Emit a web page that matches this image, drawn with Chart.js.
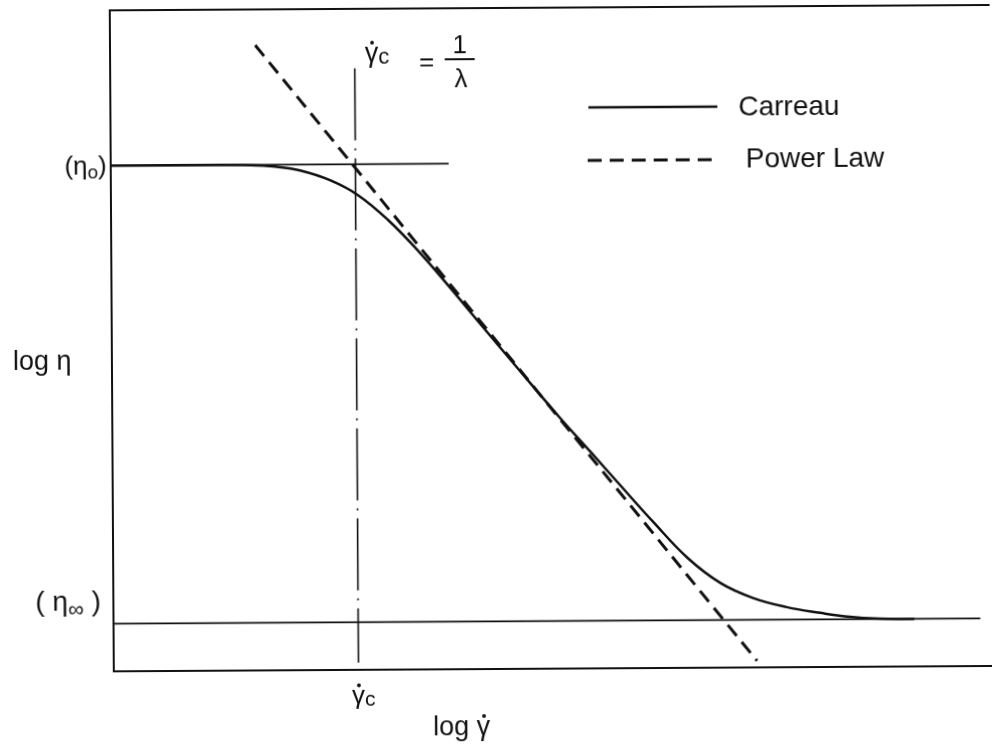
<!DOCTYPE html>
<html>
<head>
<meta charset="utf-8">
<title>Carreau model vs power law</title>
<script src="https://cdn.jsdelivr.net/npm/chart.js@4.4.1/dist/chart.umd.min.js"></script>
<style>
  html, body { margin: 0; padding: 0; background: #fff; }
  /* the original figure is a slightly skewed scan */
  #chart { display: block; transform: rotate(-0.35deg); }
</style>
</head>
<body>
<canvas id="chart" width="992" height="746"></canvas>
<script>
// log(shear rate) vs log(viscosity), arbitrary units (0..100 on both axes)
const carreauRate = [0, 10, 15.9, 18.7, 21.5, 24.9, 28.1, 31.5, 35.1, 38.5, 41.9, 46.4, 50.9, 54.3, 57.6, 61.4, 65.3, 69.0, 72.7, 76.5, 80.3, 83.4, 87.1, 91.0];
const carreauVisc = [76.5, 76.5, 76.45, 76.2, 75.6, 74.1, 71.8, 68.0, 63.0, 57.7, 52.2, 45.0, 37.9, 32.8, 27.8, 22.1, 16.6, 12.8, 10.5, 9.1, 8.2, 7.6, 7.25, 7.2];
const powerLawRate = [16.5, 73.1];
const powerLawVisc = [94.6, 1.0];
const plateauVisc = [76.5, 7.2];   // (η0), (η∞)
const plateauEnd = [38.4, 98.5];   // how far each plateau line runs
const critRate = [27.8];           // γ̇c = 1/λ
const critSpan = [91.0, 1.1];
const seriesNames = ['Carreau', 'Power Law'];

const FONT = '"Liberation Sans", Arial, Helvetica, sans-serif';
const INK = '#111';

const toPoints = (xs, ys) => xs.map((v, i) => ({ x: v, y: ys[i] }));

// draws text pieces (main text + subscripts) one after another
// a piece flagged with 'dot' gets an overdot (for γ̇)
function drawParts(ctx, parts, x, baseline, align) {
    let total = 0;
    parts.forEach(p => {
        ctx.font = p[1] + 'px ' + FONT;
        p.w = ctx.measureText(p[0]).width;
        total += p.w;
    });
    let cx = x;
    if (align === 'right') cx = x - total;
    if (align === 'center') cx = x - total / 2;
    ctx.textAlign = 'left';
    parts.forEach(p => {
        ctx.font = p[1] + 'px ' + FONT;
        const by = baseline + (p[2] || 0);
        ctx.fillText(p[0], cx, by);
        if (p[3] === 'dot') {
            ctx.beginPath();
            ctx.arc(cx + p.w * 0.55, by - p[1] * 0.52 - 5, 1.9, 0, Math.PI * 2);
            ctx.fill();
        }
        cx += p.w;
    });
}

const figureLabels = {
    id: 'figureLabels',
    afterDraw(chart) {
        const ctx = chart.ctx;
        const area = chart.chartArea;
        const xs = chart.scales.x;
        const ys = chart.scales.y;
        const gc = xs.getPixelForValue(critRate[0]);
        ctx.save();
        ctx.fillStyle = INK;
        ctx.strokeStyle = INK;
        ctx.textBaseline = 'alphabetic';

        // left side labels
        drawParts(ctx, [['(η', 26], ['o', 19, 4], [')', 26]], area.left - 4, ys.getPixelForValue(plateauVisc[0]) + 9, 'right');
        drawParts(ctx, [['log η', 27]], 13, 367, 'left');
        drawParts(ctx, [['( η', 28], ['∞', 22, 6], [' )', 28]], 34, ys.getPixelForValue(plateauVisc[1]) - 13, 'left');

        // bottom labels
        drawParts(ctx, [['γ', 26, 0, 'dot'], ['c', 21, 2]], gc + 5, area.bottom + 34, 'center');
        drawParts(ctx, [['log ', 27], ['γ', 27, 0, 'dot']], 431, 735, 'left');

        // γ̇c = 1/λ at the top
        drawParts(ctx, [['γ', 27, 0, 'dot'], ['c', 22, 2]], gc + 10, 61, 'left');
        ctx.font = '26px ' + FONT;
        ctx.textAlign = 'center';
        ctx.fillText('=', gc + 72, 70);
        ctx.fillText('1', gc + 105, 53);
        ctx.fillText('λ', gc + 106, 87);
        ctx.lineWidth = 2;
        ctx.beginPath();
        ctx.moveTo(gc + 90, 59);
        ctx.lineTo(gc + 120, 59);
        ctx.stroke();

        // legend, styled from the first two datasets
        const rows = [[590, 719, 108, 740, 117], [589, 714, 161, 747, 169]];
        rows.forEach((r, i) => {
            const ds = chart.data.datasets[i];
            ctx.setLineDash(ds.borderDash || []);
            ctx.lineWidth = ds.borderWidth;
            ctx.strokeStyle = ds.borderColor;
            ctx.beginPath();
            ctx.moveTo(r[0], r[2]);
            ctx.lineTo(r[1], r[2]);
            ctx.stroke();
            ctx.setLineDash([]);
            ctx.font = '28px ' + FONT;
            ctx.textAlign = 'left';
            ctx.fillText(seriesNames[i], r[3], r[4]);
        });
        ctx.restore();
    }
};

const frameAxis = (position) => ({
    type: 'linear',
    position: position,
    min: 0,
    max: 100,
    grid: { display: false, drawTicks: false },
    ticks: { display: false },
    border: { display: true, color: INK, width: 2 }
});

const ctx = document.getElementById('chart').getContext('2d');
new Chart(ctx, {
    type: 'line',
    data: {
        datasets: [
            {
                label: seriesNames[0],
                data: toPoints(carreauRate, carreauVisc),
                borderColor: INK,
                borderWidth: 2.5,
                tension: 0.4
            },
            {
                label: seriesNames[1],
                data: toPoints(powerLawRate, powerLawVisc),
                borderColor: INK,
                borderWidth: 3,
                borderDash: [14, 8]
            },
            {
                label: 'eta0',
                data: toPoints([0, plateauEnd[0]], [plateauVisc[0], plateauVisc[0]]),
                borderColor: INK,
                borderWidth: 1.6
            },
            {
                label: 'etaInf',
                data: toPoints([0, plateauEnd[1]], [plateauVisc[1], plateauVisc[1]]),
                borderColor: INK,
                borderWidth: 1.6
            },
            {
                label: 'gammaC',
                data: toPoints([critRate[0], critRate[0]], critSpan),
                borderColor: INK,
                borderWidth: 1.6,
                borderDash: [72, 8, 2, 8]
            }
        ]
    },
    options: {
        responsive: false,
        animation: false,
        layout: { padding: { left: 112, top: 8, right: 0, bottom: 77 } },
        elements: { point: { radius: 0 } },
        scales: {
            x: frameAxis('bottom'),
            x2: Object.assign(frameAxis('top'), { axis: 'x' }),
            y: frameAxis('left')
        },
        plugins: {
            legend: { display: false },
            tooltip: { enabled: false }
        }
    },
    plugins: [figureLabels]
});
</script>
</body>
</html>
